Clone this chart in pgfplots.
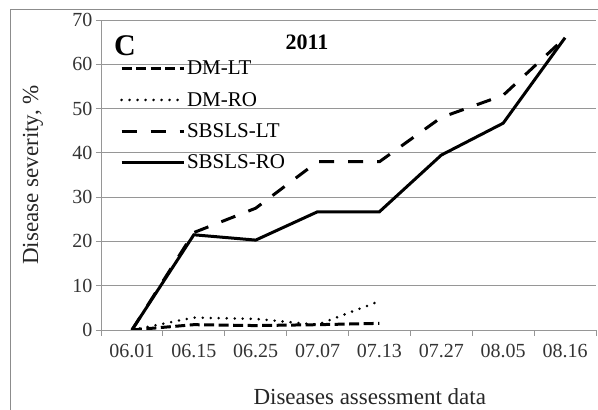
\documentclass[border=0pt]{standalone}
\usepackage{pgfplots}
\pgfplotsset{compat=1.18}
\usepackage{fontspec}
\setmainfont{Liberation Serif}
\definecolor{gridgray}{RGB}{150,150,150}
\definecolor{framegray}{RGB}{140,140,140}
\begin{document}
\begin{tikzpicture}
\path[use as bounding box] (0pt,0pt) rectangle (598pt,410pt);
\draw[framegray, line width=1pt] (10pt,0pt) -- (10pt,400pt) -- (598pt,400pt);
\begin{axis}[
  at={(101pt,80pt)}, anchor=south west,
  scale only axis, width=495pt, height=310pt,
  xmin=-0.5, xmax=7.5, ymin=0, ymax=70,
  axis x line=bottom, axis y line=left,
  axis line style={gridgray, line width=0.8pt, -},
  xtick={0,...,7},
  xticklabels={06.01,06.15,06.25,07.07,07.13,07.27,08.05,08.16},
  major x tick style={draw=none},
  minor xtick={-0.5,0.5,...,7.5},
  minor x tick style={gridgray, line width=0.8pt},
  ytick={0,10,...,70},
  y tick style={gridgray, line width=0.8pt},
  tick align=outside,
  major tick length=5pt, minor tick length=6pt,
  ymajorgrids, grid style={gridgray, line width=0.8pt},
  tick label style={font=\fontsize{20}{22}\selectfont, text=black!80},
  xticklabel style={yshift=-6pt},
  /pgf/number format/assume math mode=true,
  ylabel={Disease severity, \%},
  xlabel={Diseases assessment data},
  label style={font=\fontsize{23}{25}\selectfont, text=black!85},
  ylabel style={at={(axis description cs:0,0.5)}, anchor=center, xshift=0pt, yshift=68pt},
  xlabel style={at={(axis description cs:0.543,0)}, anchor=center, yshift=-67pt},
  legend style={at={(axis description cs:0.038,0.875)}, anchor=north west, draw=none, fill=none,
    font=\fontsize{21}{23}\selectfont, row sep=12pt, inner sep=0pt,
    nodes={inner sep=2pt}},
  legend cell align=left,
  legend image code/.code={\draw[#1] (0pt,0pt) -- (62pt,0pt);},
]
\addplot[black, line width=3pt, dash pattern=on 10pt off 4.5pt] coordinates {(0,0) (1,1.2) (2,1.0) (3,1.2) (4,1.5)};
\addlegendentry{DM-LT}
\addplot[black, line width=2.8pt, line cap=round, dash pattern=on 0pt off 8pt] coordinates {(0,0) (1,2.8) (2,2.5) (3,1.2) (4,6.5)};
\addlegendentry{DM-RO}
\addplot[black, line width=3pt, dash pattern=on 15pt off 14pt] coordinates {(0,0) (1,22) (2,27.5) (3,38) (4,38) (5,48) (6,53) (7,66)};
\addlegendentry{SBSLS-LT}
\addplot[black, line width=3pt] coordinates {(0,0) (1,21.5) (2,20.3) (3,26.7) (4,26.7) (5,39.5) (6,46.7) (7,66)};
\addlegendentry{SBSLS-RO}
\end{axis}
\node[font=\fontsize{30}{32}\selectfont\bfseries] at (125pt,364pt) {C};
\node[font=\fontsize{22}{24}\selectfont\bfseries] at (307pt,368pt) {2011};
\end{tikzpicture}
\end{document}
